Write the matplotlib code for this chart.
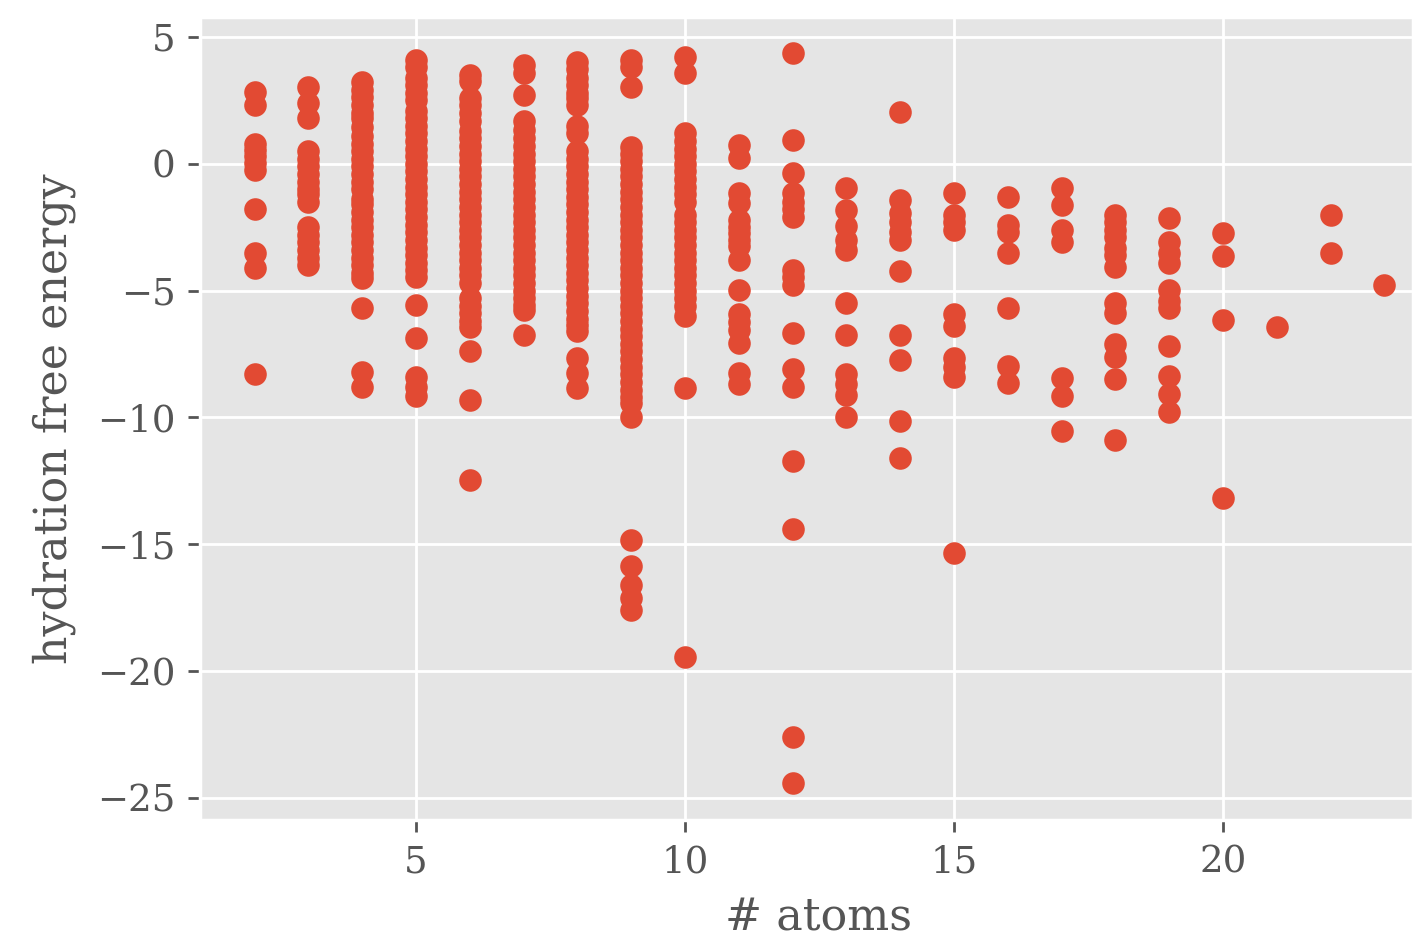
import matplotlib
matplotlib.use("Agg")
import matplotlib.pyplot as plt

# number of atoms per molecule and the hydration free energies
atoms_2 = [2.85, 2.32, 0.8, 0.55, 0.3, 0.05, -0.25, -1.8, -3.5, -4.1, -8.3]
atoms_3 = [3.04, 2.4, 1.8, 0.5, 0.2, -0.1, -0.4, -0.7, -1.0, -1.2, -1.5,
           -2.5, -2.8, -3.1, -3.4, -3.7, -4.0]
atoms_4 = [3.24, 2.9, 2.65, 2.3, 2.0, 1.8, 1.45, 1.1, 0.8, 0.5, 0.2, -0.1,
           -0.4, -0.7, -1.0, -1.4, -1.6, -1.9, -2.2, -2.5, -2.8, -3.1, -3.4,
           -3.7, -4.0, -4.3, -4.5, -5.7, -8.2, -8.8]
atoms_5 = [4.09, 3.8, 3.4, 3.1, 2.8, 2.5, 2.1, 1.8, 1.5, 1.2, 0.9, 0.6, 0.3,
           0.0, -0.3, -0.6, -0.9, -1.2, -1.5, -1.8, -2.1, -2.4, -2.7, -3.0,
           -3.3, -3.6, -3.9, -4.2, -4.45, -5.55, -6.85, -8.4, -8.8, -9.15]
atoms_6 = [3.5, 3.25, 2.6, 2.3, 2.0, 1.7, 1.3, 1.0, 0.7, 0.4, 0.1, -0.2,
           -0.5, -0.8, -1.1, -1.4, -1.7, -2.0, -2.3, -2.6, -2.9, -3.2, -3.5,
           -3.8, -4.1, -4.4, -4.7, -5.3, -5.6, -5.9, -6.2, -6.45, -7.4, -9.3,
           -12.45]
atoms_7 = [3.9, 3.58, 2.72, 1.67, 1.35, 1.0, 0.7, 0.4, 0.1, -0.2, -0.5,
           -0.8, -1.1, -1.4, -1.7, -2.0, -2.3, -2.6, -2.9, -3.2, -3.5, -3.8,
           -4.1, -4.4, -4.7, -5.0, -5.3, -5.55, -5.75, -6.73]
atoms_8 = [4.03, 3.75, 3.4, 3.1, 2.8, 2.6, 2.3, 1.5, 1.2, 0.5, 0.2, -0.1,
           -0.4, -0.7, -1.0, -1.3, -1.6, -1.9, -2.2, -2.5, -2.8, -3.1, -3.4,
           -3.7, -4.0, -4.3, -4.6, -4.9, -5.2, -5.5, -5.8, -6.1, -6.35, -6.6,
           -7.64, -8.24, -8.82]
atoms_9 = [4.09, 3.8, 3.04, 0.68, 0.4, 0.1, -0.2, -0.5, -0.8, -1.1, -1.4,
           -1.7, -2.0, -2.3, -2.6, -2.9, -3.2, -3.5, -3.8, -4.1, -4.4, -4.7,
           -5.0, -5.3, -5.6, -5.9, -6.2, -6.5, -6.8, -7.1, -7.4, -7.7, -8.0,
           -8.3, -8.6, -8.9, -9.2, -9.45, -10.0, -14.84, -15.87, -16.6,
           -17.1, -17.6]
atoms_10 = [4.22, 3.57, 1.22, 0.9, 0.6, 0.3, 0.0, -0.3, -0.6, -0.9, -1.2,
            -1.5, -2.0, -2.3, -2.6, -2.9, -3.2, -3.5, -3.8, -4.1, -4.4, -4.7,
            -5.0, -5.3, -5.6, -6.0, -8.82, -19.45]
atoms_11 = [0.75, 0.24, -1.15, -1.55, -2.2, -2.5, -2.73, -3.0, -3.26, -3.78,
            -4.96, -5.94, -6.25, -6.54, -7.06, -8.24, -8.7]
atoms_12 = [4.38, 0.94, -0.37, -1.15, -1.5, -1.8, -2.1, -4.17, -4.45, -4.76,
            -6.66, -8.1, -8.8, -11.72, -14.4, -22.6, -24.4]
atoms_13 = [-0.96, -1.81, -2.47, -3.0, -3.4, -5.48, -6.73, -8.3, -8.7, -9.1,
            -10.0]
atoms_14 = [2.06, -1.42, -1.94, -2.3, -2.7, -3.0, -4.24, -6.73, -7.72,
            -10.14, -11.59]
atoms_15 = [-1.15, -2.0, -2.3, -2.6, -5.94, -6.4, -7.64, -8.0, -8.4, -15.35]
atoms_16 = [-1.29, -2.4, -2.7, -3.52, -5.68, -7.98, -8.63]
atoms_17 = [-0.96, -1.61, -2.6, -3.1, -8.44, -9.16, -10.54]
atoms_18 = [-2.0, -2.3, -2.6, -2.9, -3.3, -3.6, -4.05, -5.5, -5.9, -7.1,
            -7.6, -8.5, -10.87]
atoms_19 = [-2.14, -3.1, -3.5, -3.9, -4.96, -5.4, -5.68, -7.19, -8.37,
            -9.09, -9.8]
atoms_20 = [-2.73, -3.65, -6.14, -13.16]
atoms_21 = [-6.45]
atoms_22 = [-2.0, -3.52]
atoms_23 = [-4.76]

groups = {2: atoms_2, 3: atoms_3, 4: atoms_4, 5: atoms_5, 6: atoms_6,
          7: atoms_7, 8: atoms_8, 9: atoms_9, 10: atoms_10, 11: atoms_11,
          12: atoms_12, 13: atoms_13, 14: atoms_14, 15: atoms_15,
          16: atoms_16, 17: atoms_17, 18: atoms_18, 19: atoms_19,
          20: atoms_20, 21: atoms_21, 22: atoms_22, 23: atoms_23}

n_atoms = []
energy = []
for n, vals in groups.items():
    n_atoms += [n] * len(vals)
    energy += vals

plt.style.use("ggplot")
plt.rcParams["font.family"] = ["DejaVu Serif"]

fig = plt.figure(figsize=(5.652, 3.764), dpi=250)
ax = fig.add_axes([0.1415, 0.1286, 0.8585, 0.8534])
ax.scatter(n_atoms, energy, color="#E24A33")
ax.set_xlim(0.985, 23.53)
ax.set_ylim(-25.87, 5.79)
ax.set_xticks([5, 10, 15, 20])
ax.set_yticks([-25, -20, -15, -10, -5, 0, 5])
ax.tick_params(labelsize=10.7)
ax.set_xlabel("# atoms", fontsize=12.8)
ax.xaxis.set_label_coords(0.51, -0.095)
ax.set_ylabel("hydration free energy", fontsize=12.8, labelpad=6)

fig.savefig("out.png", dpi=250)
